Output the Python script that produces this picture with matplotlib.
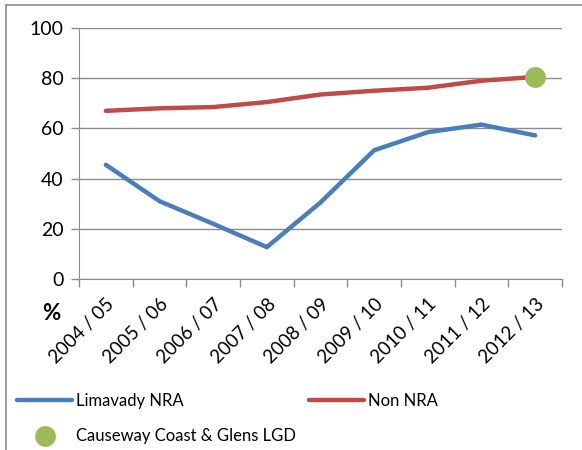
import matplotlib
matplotlib.use("Agg")
import matplotlib.pyplot as plt
from matplotlib.lines import Line2D
import numpy as np

categories = ["2004 / 05", "2005 / 06", "2006 / 07", "2007 / 08", "2008 / 09",
              "2009 / 10", "2010 / 11", "2011 / 12", "2012 / 13"]
limavady_nra = [45.5, 31, 22, 12.7, 30.5, 51.3, 58.5, 61.5, 57.2]
non_nra = [67, 68, 68.5, 70.5, 73.5, 75, 76.2, 79, 80.5]
lgd_value = [80.5]
lgd_category_index = [8]
y_ticks = [0, 20, 40, 60, 80, 100]

plt.rcParams['font.family'] = ['Lato', 'DejaVu Sans']

W, H = 582, 450
fig = plt.figure(figsize=(W/100, H/100), dpi=100)
ax = fig.add_axes([79/W, 1 - 279/H, (562-79)/W, (279-28)/H])

x = np.arange(len(categories))
blue = "#4a7ebb"
red = "#be4b48"
green = "#9bbb59"
grid_c = "#8c8c8c"

l1, = ax.plot(x, limavady_nra, color=blue, lw=3.2, solid_capstyle='round', label="Limavady NRA", zorder=3)
l2, = ax.plot(x, non_nra, color=red, lw=3.2, solid_capstyle='round', label="Non NRA", zorder=3)
l3, = ax.plot([x[i] for i in lgd_category_index], lgd_value, 'o', color=green, ms=15,
              markeredgewidth=0, label="Causeway Coast & Glens LGD", zorder=4)

ax.set_xlim(-0.5, len(categories) - 0.5)
ax.set_ylim(0, 100)
ax.set_yticks(y_ticks)
ax.set_yticklabels([str(v) for v in y_ticks], fontsize=14)
ax.yaxis.grid(True, color=grid_c, lw=1)
ax.set_axisbelow(True)

ax.set_xticks(np.arange(len(categories) + 1) - 0.5)
ax.set_xticklabels([])
ax.set_xticks(x, minor=True)
ax.set_xticklabels(categories, minor=True, rotation=45, ha='right', va='top',
                   rotation_mode='anchor', fontsize=13.5)
ax.tick_params(axis='x', which='minor', length=0, pad=12)
ax.tick_params(axis='x', which='major', length=6, color=grid_c, width=1)
ax.tick_params(axis='y', length=6, color=grid_c, width=1, pad=5)

for s in ['top', 'right']:
    ax.spines[s].set_visible(False)
ax.spines['left'].set_color(grid_c)
ax.spines['bottom'].set_color(grid_c)

fig.text(51/W, 1 - 314/H, "%", fontsize=16, fontweight='bold', ha='center', va='center')

leg = fig.legend(handles=[l1, l3, l2], ncol=2, loc='upper left',
                 bbox_to_anchor=(17/W, 1 - 393/H), frameon=False, fontsize=12,
                 handlelength=3.3, handletextpad=0.24, columnspacing=0.78,
                 labelspacing=1.17, borderaxespad=0, borderpad=0)

# outer frame (top and left)
fig.add_artist(Line2D([6/W, 1], [1 - 5/H, 1 - 5/H], color=grid_c, lw=1.2))
fig.add_artist(Line2D([6/W, 6/W], [0, 1 - 5/H], color=grid_c, lw=1.2))

fig.savefig("out.png", dpi=100)
